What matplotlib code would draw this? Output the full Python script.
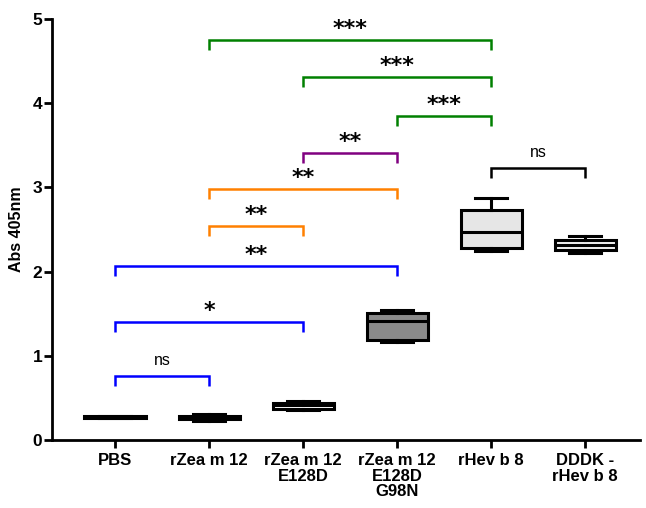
import matplotlib
matplotlib.use("Agg")
import matplotlib.pyplot as plt

# groups and box statistics (Abs 405nm)
groups = ["PBS", "rZea m 12", "rZea m 12\nE128D", "rZea m 12\nE128D\nG98N", "rHev b 8", "DDDK -\nrHev b 8"]
whislo = [0.26, 0.22, 0.35, 1.16, 2.245, 2.22]
q1 = [0.265, 0.25, 0.37, 1.19, 2.28, 2.26]
med = [0.27, 0.265, 0.41, 1.41, 2.47, 2.32]
q3 = [0.28, 0.28, 0.44, 1.51, 2.73, 2.37]
whishi = [0.285, 0.31, 0.46, 1.54, 2.87, 2.42]
fills = ["white", "white", "white", "#8a8a8a", "#e6e6e6", "#f0f0f0"]

# significance brackets: (left group, right group, height, label, colour)
brackets = [
    (0, 1, 0.76, "ns", "#0000ff"),
    (0, 2, 1.40, "*", "#0000ff"),
    (0, 3, 2.07, "**", "#0000ff"),
    (1, 2, 2.54, "**", "#ff8000"),
    (1, 3, 2.98, "**", "#ff8000"),
    (2, 3, 3.41, "**", "#800080"),
    (3, 4, 3.85, "***", "#008000"),
    (2, 4, 4.31, "***", "#008000"),
    (1, 4, 4.75, "***", "#008000"),
    (4, 5, 3.23, "ns", "black"),
]

plt.rcParams["font.family"] = ["Liberation Sans", "DejaVu Sans"]

fig = plt.figure(figsize=(6.46, 5.08), dpi=100)
ax = fig.add_axes([0.0805, 0.134, 0.91, 0.8286])

stats = []
for i in range(len(groups)):
    stats.append(dict(whislo=whislo[i], q1=q1[i], med=med[i], q3=q3[i], whishi=whishi[i], fliers=[]))

lw = 2.2
bp = ax.bxp(stats, positions=range(len(groups)), widths=0.65, patch_artist=True,
            showfliers=False,
            boxprops=dict(linewidth=lw, edgecolor="black"),
            whiskerprops=dict(linewidth=lw, color="black"),
            capprops=dict(linewidth=lw, color="black"),
            medianprops=dict(linewidth=lw, color="black"),
            capwidths=0.34)
for patch, c in zip(bp["boxes"], fills):
    patch.set_facecolor(c)

tip = 0.12
for a, b, h, lab, col in brackets:
    ax.plot([a, a, b, b], [h - tip, h, h, h - tip], color=col, lw=1.8, solid_capstyle="butt",
            solid_joinstyle="miter")
    if lab == "ns":
        ax.text((a + b) / 2, h + 0.18, lab, ha="center", va="center", fontsize=11.5)
    else:
        ax.text((a + b) / 2, h + 0.13, lab, ha="center", va="center", fontsize=16,
                fontweight="bold", family="DejaVu Sans")

ax.set_xlim(-0.67, 5.58)
ax.set_ylim(0, 5)
ax.set_xticks(range(len(groups)))
ax.set_xticklabels(groups, fontsize=12, fontweight="bold", linespacing=1.05)
ax.set_yticks([0, 1, 2, 3, 4, 5])
ax.set_yticklabels(["0", "1", "2", "3", "4", "5"], fontsize=12.5, fontweight="bold")
ax.set_ylabel("Abs 405nm", fontsize=11.5, fontweight="bold", labelpad=6)

for s in ["top", "right"]:
    ax.spines[s].set_visible(False)
for s in ["left", "bottom"]:
    ax.spines[s].set_linewidth(2.0)
ax.tick_params(width=2.0, length=6)
ax.tick_params(axis="y", pad=1)

fig.savefig("out.png", dpi=100)
